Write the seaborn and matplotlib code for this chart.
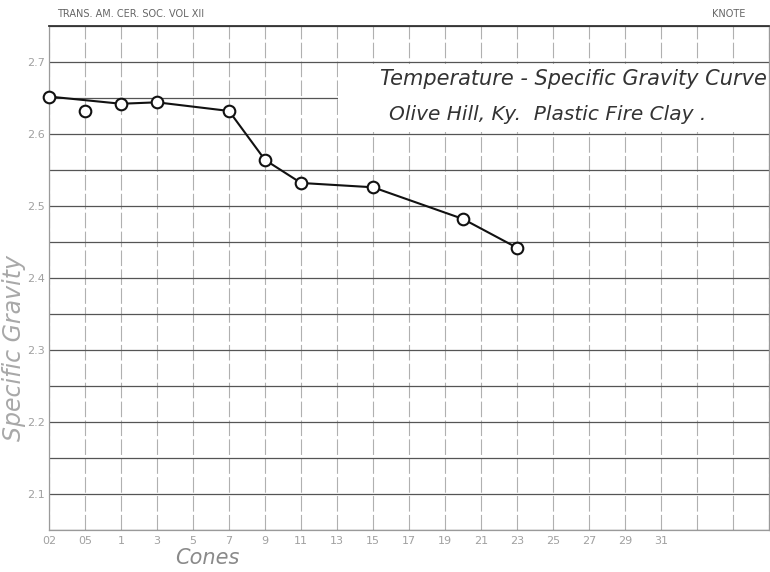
import numpy as np
import pandas as pd
import seaborn as sns
import matplotlib.pyplot as plt
from matplotlib.patches import Rectangle

# cone scale along the bottom (one grid column per label)
cone_labels = ["02", "05", "1", "3", "5", "7", "9", "11", "13", "15",
               "17", "19", "21", "23", "25", "27", "29", "31"]

# measured points: position on the cone scale, specific gravity
point_cone = ["02", "05", "1", "3", "7", "9", "11", "15", "20", "23"]
point_pos = [0, 1, 2, 3, 5, 6, 7, 9, 11.5, 13]
sp_gravity = [2.652, 2.632, 2.642, 2.644, 2.632, 2.564, 2.532, 2.526, 2.482, 2.442]
on_curve = [True, False, True, True, True, True, True, True, True, True]

df = pd.DataFrame({"cone": point_cone, "pos": point_pos,
                   "sg": sp_gravity, "curve": on_curve})

sns.set_theme(style="white")
plt.rcParams["font.family"] = ["DejaVu Sans"]

fig = plt.figure(figsize=(7.7, 5.72), dpi=100)
ax = fig.add_axes([49 / 770, 42 / 572, 720 / 770, 504 / 572])

# graph paper grid
n_cols = 20
ax.set_xlim(0, n_cols)
ax.set_ylim(2.05, 2.75)
ax.set_xticks(np.arange(n_cols + 1))
ax.set_xticklabels(cone_labels + [""] * (n_cols + 1 - len(cone_labels)))
yt = np.round(np.arange(2.05, 2.751, 0.05), 2)
ax.set_yticks(yt)
ax.set_yticklabels([f"{v:.1f}" if abs(v * 10 - round(v * 10)) < 1e-6 and v < 2.745 else "" for v in yt])
ax.grid(axis="y", color="#555555", linewidth=0.9)
ax.grid(axis="x", color="#b0b0b0", linewidth=0.8, linestyle=(0, (14, 3)))
ax.set_axisbelow(True)
for side in ["left", "right", "bottom"]:
    ax.spines[side].set_color("#9a9a9a")
    ax.spines[side].set_linewidth(0.9)
ax.spines["top"].set_color("#333333")
ax.spines["top"].set_linewidth(1.3)
ax.tick_params(axis="x", length=0, pad=4, labelsize=8, colors="#a0a0a0")
ax.tick_params(axis="y", length=0, pad=3, labelsize=8, colors="#a0a0a0")

# white panel for the caption, between the 2.6 and 2.7 lines
ax.add_patch(Rectangle((8.04, 2.603), n_cols - 8.04, 0.094,
                       facecolor="white", edgecolor="none", zorder=1))
ax.text(14.58, 2.676, "Temperature - Specific Gravity Curve", ha="center",
        va="center", fontsize=15, style="italic", color="#333333", zorder=3)
ax.text(13.86, 2.627, "Olive Hill, Ky.  Plastic Fire Clay .", ha="center",
        va="center", fontsize=14.5, style="italic", color="#333333", zorder=3)

# curve and points
sns.lineplot(data=df[df["curve"]], x="pos", y="sg", sort=False, ax=ax,
             color="#111111", linewidth=1.5, zorder=4)
sns.scatterplot(data=df, x="pos", y="sg", ax=ax, s=70, marker="o",
                facecolor="white", edgecolor="#111111", linewidth=1.5,
                zorder=5, clip_on=False)

ax.set_xlabel("")
ax.set_ylabel("")

fig.text(14 / 770, 1 - 348 / 572, "Specific Gravity", rotation=90,
         ha="center", va="center", fontsize=17, style="italic", color="#a8a8a8")
fig.text(207 / 770, 1 - 558 / 572, "Cones", ha="center", va="center",
         fontsize=15, style="italic", color="#8a8a8a")
fig.text(57 / 770, 1 - 14 / 572, "TRANS. AM. CER. SOC. VOL XII", ha="left",
         va="center", fontsize=7, color="#666666")
fig.text(745 / 770, 1 - 14 / 572, "KNOTE", ha="right", va="center",
         fontsize=7, color="#666666")

fig.savefig("out.png", dpi=100, facecolor="white")
